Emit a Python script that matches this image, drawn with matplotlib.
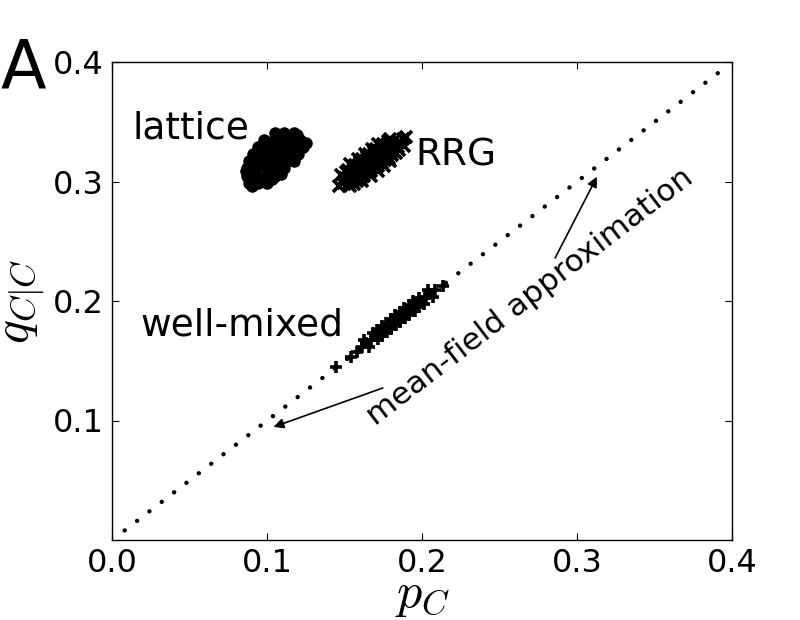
import numpy as np
import matplotlib
matplotlib.use('Agg')
import matplotlib.pyplot as plt

plt.rcParams['font.family'] = 'DejaVu Sans'
plt.rcParams['mathtext.fontset'] = 'cm'
plt.rcParams['font.size'] = 23
plt.rcParams['axes.linewidth'] = 1.0

# lattice (filled circles)
lat_p = [0.105, 0.111, 0.117, 0.119,
         0.098, 0.104, 0.110, 0.116, 0.121,
         0.094, 0.100, 0.106, 0.112, 0.118, 0.123, 0.125,
         0.091, 0.097, 0.103, 0.109, 0.115, 0.120,
         0.088, 0.094, 0.100, 0.106, 0.112, 0.117,
         0.087, 0.093, 0.099, 0.105, 0.111,
         0.087, 0.093, 0.099, 0.105, 0.109, 0.103,
         0.088, 0.094, 0.100, 0.090, 0.086]
lat_q = [0.341, 0.341, 0.341, 0.339,
         0.335, 0.335, 0.335, 0.335, 0.335,
         0.329, 0.329, 0.329, 0.329, 0.329, 0.329, 0.332,
         0.323, 0.323, 0.323, 0.323, 0.323, 0.323,
         0.317, 0.317, 0.317, 0.317, 0.317, 0.317,
         0.311, 0.311, 0.311, 0.311, 0.311,
         0.305, 0.305, 0.305, 0.305, 0.306, 0.302,
         0.299, 0.299, 0.299, 0.296, 0.309]

# random regular graph (crosses)
rrg_p = [0.1490, 0.1535, 0.1579, 0.1624, 0.1669, 0.1714, 0.1759, 0.1804, 0.1849,
         0.1561, 0.1606, 0.1651, 0.1696, 0.1741, 0.1786, 0.1830,
         0.1508, 0.1553, 0.1598, 0.1643, 0.1688, 0.1733, 0.1778,
         0.1666, 0.1711, 0.1756, 0.1583, 0.1628, 0.1673,
         0.1526, 0.1570, 0.1615, 0.1660, 0.1705, 0.1750, 0.1795, 0.1840,
         0.1499, 0.1544, 0.1588, 0.1633, 0.1678, 0.1723, 0.1768, 0.1813,
         0.1531, 0.1576, 0.1621, 0.1666, 0.1712, 0.1757, 0.1802, 0.1847,
         0.1478, 0.1523, 0.1568, 0.1614, 0.1659, 0.1704, 0.1749, 0.1794,
         0.1612, 0.1793, 0.1532, 0.1713,
         0.1464, 0.1875, 0.1894, 0.1880]
rrg_q = [0.2987, 0.3030, 0.3073, 0.3116, 0.3159, 0.3201, 0.3245, 0.3288, 0.3331,
         0.2983, 0.3026, 0.3069, 0.3112, 0.3154, 0.3197, 0.3241,
         0.3077, 0.3120, 0.3164, 0.3206, 0.3249, 0.3292, 0.3335,
         0.3042, 0.3085, 0.3127, 0.3191, 0.3234, 0.3276,
         0.2985, 0.3028, 0.3071, 0.3114, 0.3156, 0.3200, 0.3243, 0.3285,
         0.3033, 0.3075, 0.3118, 0.3162, 0.3204, 0.3247, 0.3290, 0.3333,
         0.2962, 0.3004, 0.3047, 0.3090, 0.3133, 0.3176, 0.3219, 0.3262,
         0.3056, 0.3099, 0.3142, 0.3185, 0.3228, 0.3271, 0.3313, 0.3356,
         0.3002, 0.3174, 0.3144, 0.3316,
         0.2962, 0.3356, 0.3372, 0.3300]

# well-mixed (plus signs)
wm_p = [0.1612, 0.1670, 0.1729, 0.1787, 0.1846, 0.1904, 0.1963, 0.2022, 0.2080,
        0.1657, 0.1716, 0.1774, 0.1832, 0.1891, 0.1950, 0.2008, 0.2067,
        0.1625, 0.1683, 0.1743, 0.1801, 0.1859, 0.1918, 0.1976, 0.2035,
        0.1634, 0.1693, 0.1752, 0.1810, 0.1870, 0.1928, 0.1987, 0.2046,
        0.1739, 0.1797, 0.1856, 0.1915, 0.1974,
        0.1706, 0.1765, 0.1824, 0.1883, 0.1942,
        0.1541, 0.1445, 0.2132, 0.1579]
wm_q = [0.1615, 0.1674, 0.1734, 0.1794, 0.1854, 0.1913, 0.1973, 0.2033, 0.2092,
        0.1618, 0.1678, 0.1738, 0.1797, 0.1857, 0.1916, 0.1977, 0.2036,
        0.1671, 0.1731, 0.1791, 0.1850, 0.1910, 0.1969, 0.2029, 0.2089,
        0.1645, 0.1705, 0.1764, 0.1823, 0.1884, 0.1943, 0.2003, 0.2062,
        0.1708, 0.1768, 0.1827, 0.1887, 0.1946,
        0.1761, 0.1820, 0.1880, 0.1939, 0.1999,
        0.1531, 0.1448, 0.2126, 0.1573]

# mean-field approximation q = p
mf_p = [0.008, 0.394]
mf_q = [0.008, 0.394]

fig = plt.figure(figsize=(8, 6.2), dpi=100)
ax = fig.add_axes([112.3/800, 80/620, 620/800, 478/620])

ax.plot(mf_p, mf_q, color='k', lw=3.2, linestyle=(0, (0.01, 3.5)),
        dash_capstyle='round')
ax.plot(lat_p, lat_q, 'o', color='k', ms=8, mec='k')
ax.plot(rrg_p, rrg_q, 'x', color='k', ms=8, mew=2.6)
ax.plot(wm_p, wm_q, '+', color='k', ms=8.5, mew=2.6)

ax.annotate('', xy=(0.3127, 0.3040), xytext=(0.2857, 0.2360),
            arrowprops=dict(arrowstyle='-|>', color='k', lw=1.2,
                            mutation_scale=15, shrinkA=0, shrinkB=0))
ax.annotate('', xy=(0.1040, 0.0946), xytext=(0.1745, 0.1272),
            arrowprops=dict(arrowstyle='-|>', color='k', lw=1.2,
                            mutation_scale=15, shrinkA=0, shrinkB=0))

ax.text(0.0128, 0.3364, 'lattice', fontsize=27, va='baseline')
ax.text(0.1953, 0.3138, 'RRG', fontsize=27, va='baseline')
ax.text(0.018, 0.1715, 'well-mixed', fontsize=27, va='baseline')
ax.text(0.2695, 0.2033, 'mean-field approximation', fontsize=22.5,
        rotation=37.5, rotation_mode='anchor', ha='center', va='center')

ax.set_xlim(0, 0.4)
ax.set_ylim(0, 0.4)
ax.set_xticks([0.0, 0.1, 0.2, 0.3, 0.4])
ax.set_yticks([0.1, 0.2, 0.3, 0.4])
ax.tick_params(direction='in', top=True, right=True, length=5, width=0.8,
               labelsize=23, pad=6)
ax.set_xlabel('$p_C$', fontsize=36, labelpad=-6)
ax.set_ylabel('$q_{C|C}$', fontsize=36, labelpad=4)

fig.text(0.0, 1 - 88/620, 'A', fontsize=48, va='baseline')

fig.savefig('out.png', dpi=100)
